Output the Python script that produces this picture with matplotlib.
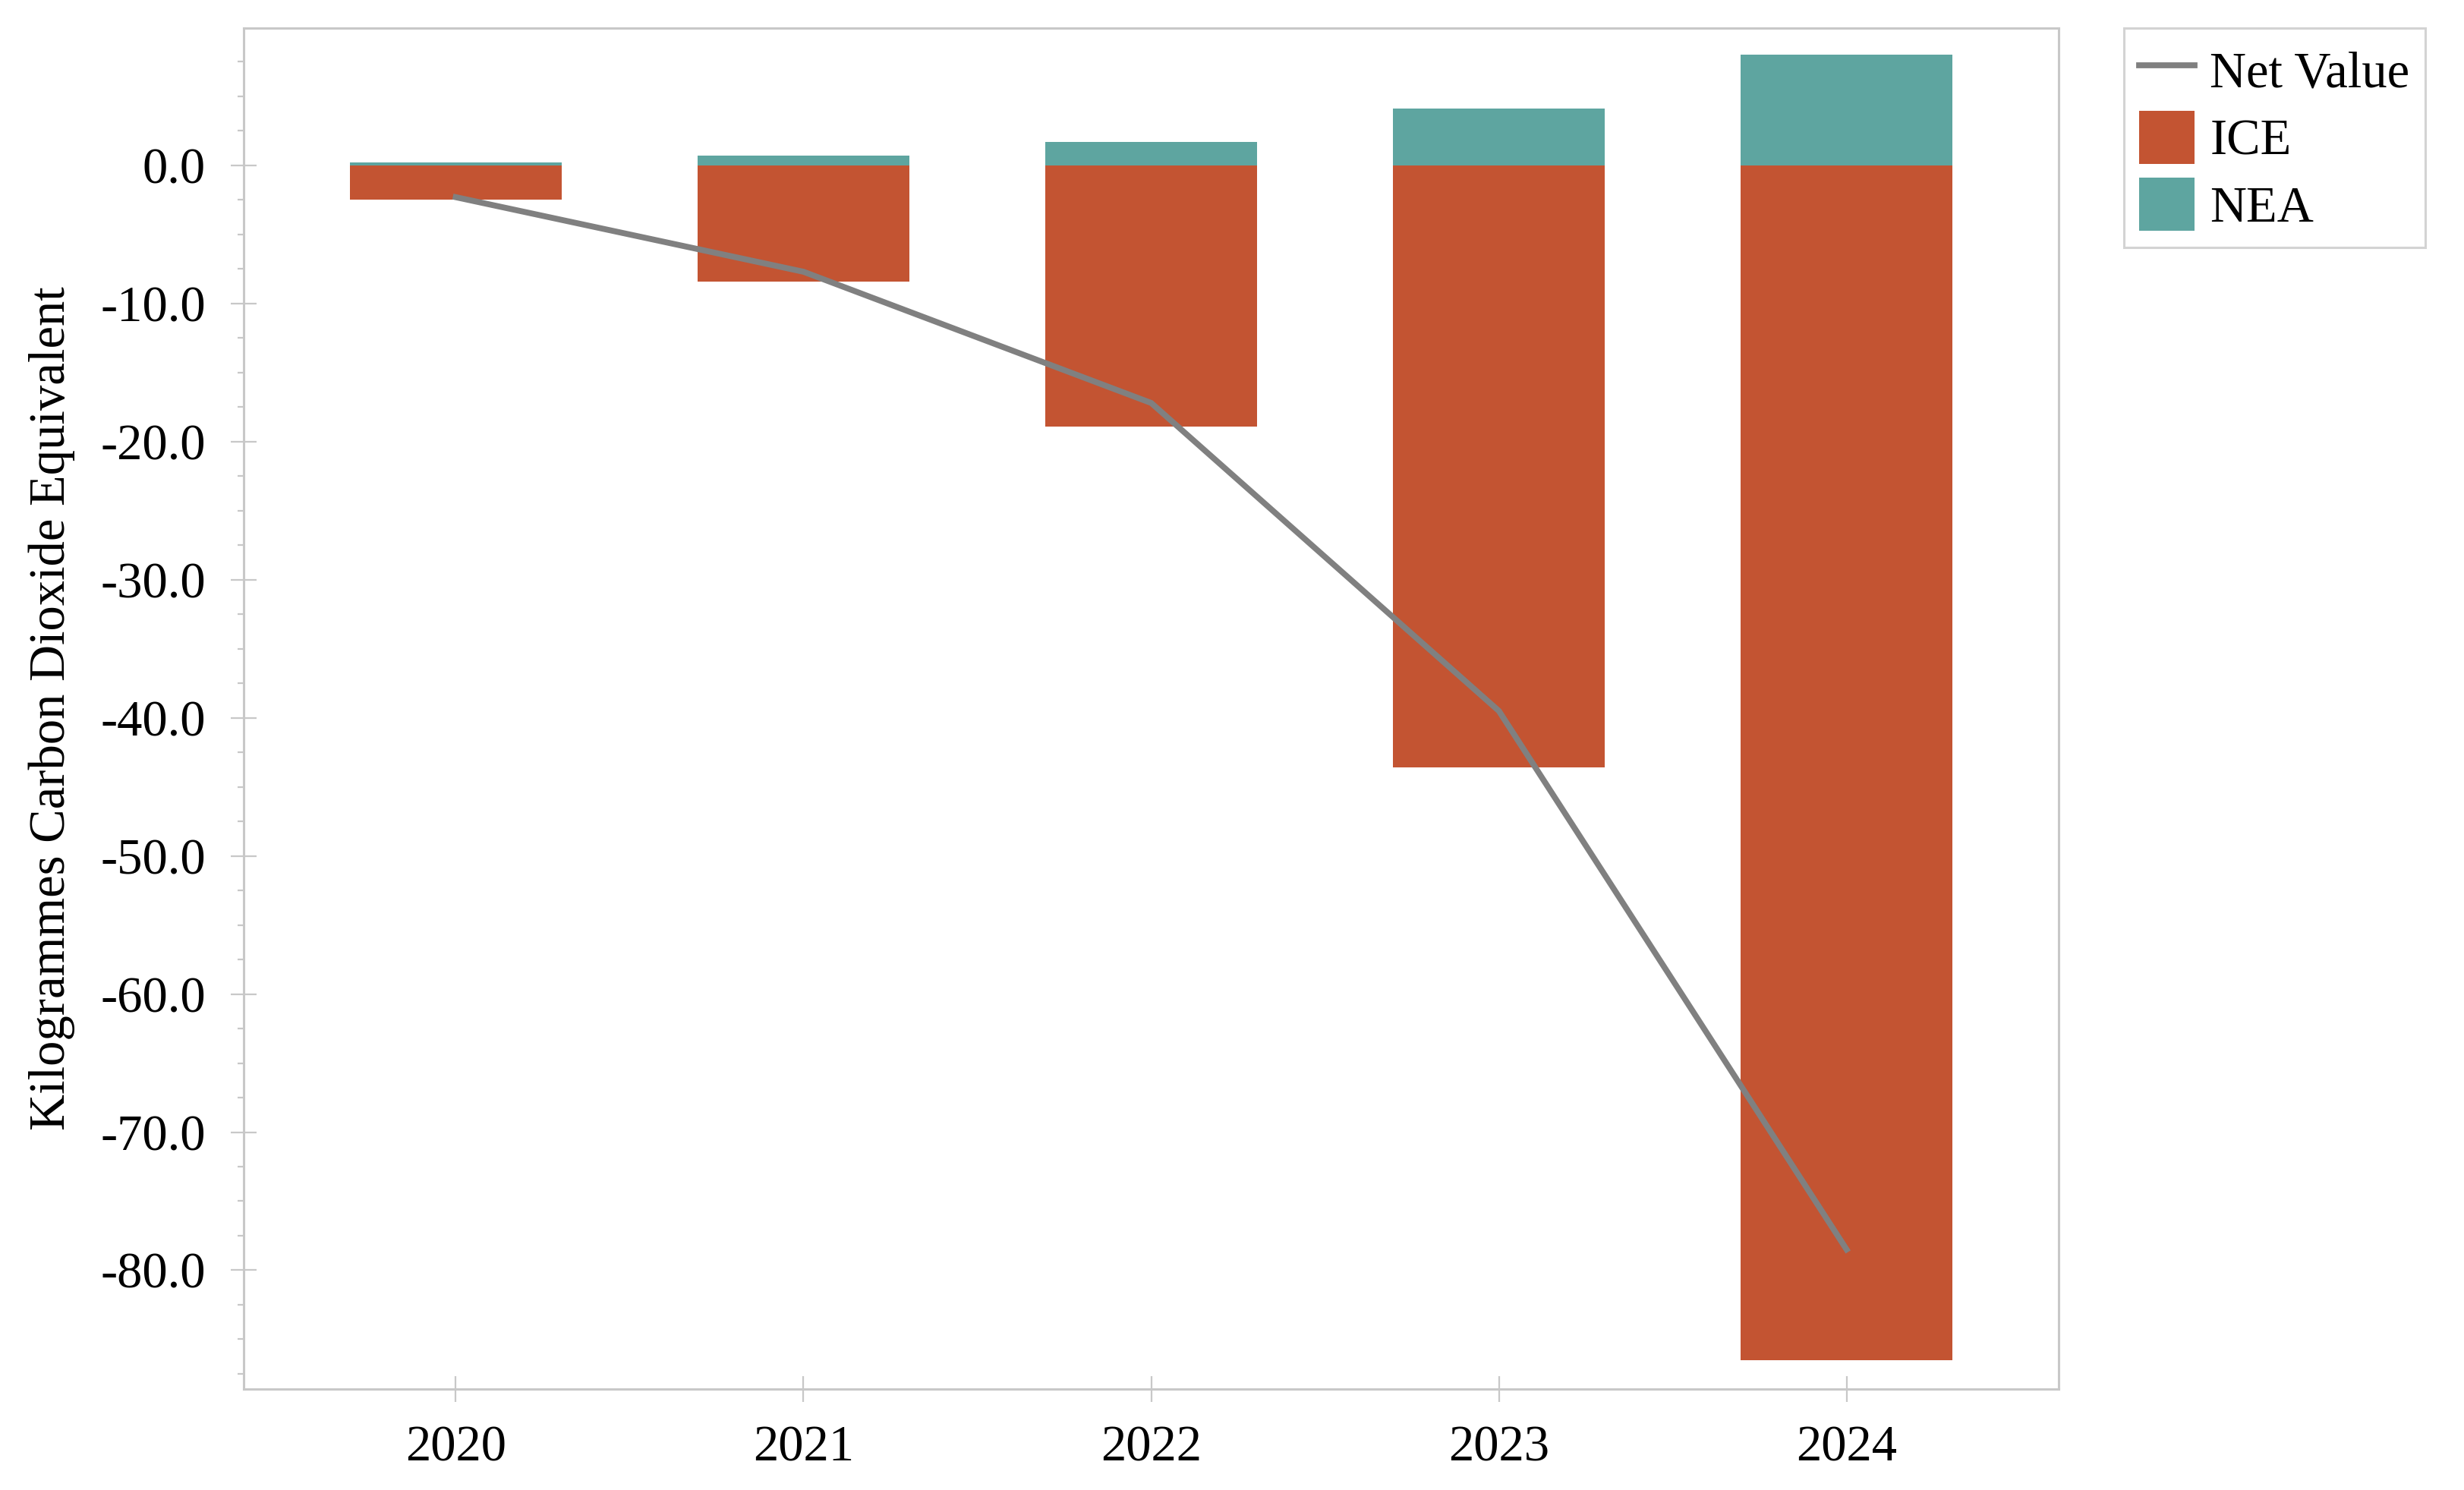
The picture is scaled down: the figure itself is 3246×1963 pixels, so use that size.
import numpy as np
import matplotlib.pyplot as plt
from matplotlib.ticker import MultipleLocator, FormatStrFormatter

# Values (kg CO2e)
years = ['2020', '2021', '2022', '2023', '2024']
ice   = [-2.5, -8.4, -18.9, -43.6, -86.5]
nea   = [0.2, 0.7, 1.7, 4.1, 8.0]
net   = [-2.3, -7.7, -17.2, -39.5, -78.5]

ice_color = '#C35432'
nea_color = '#5EA5A0'
line_color = '#808080'
grey = '#C8C8C8'

plt.rcParams['font.family'] = ['Liberation Serif', 'DejaVu Serif']

fig = plt.figure(figsize=(16.23, 9.815), dpi=200)
ax = fig.add_axes([0.0989, 0.0678, 0.7366, 0.9134])

x = np.arange(len(years))
ax.bar(x, ice, width=0.61, color=ice_color, label='ICE', zorder=2)
ax.bar(x, nea, width=0.61, color=nea_color, label='NEA', zorder=2)
ax.plot(x, net, color=line_color, linewidth=2.8, label='Net Value', zorder=3)

ax.set_xlim(-0.61, 4.61)
ax.set_ylim(-88.6, 9.95)
ax.set_xticks(x)
ax.set_xticklabels(years)
ax.yaxis.set_major_locator(MultipleLocator(10))
ax.yaxis.set_minor_locator(MultipleLocator(2.5))
ax.yaxis.set_major_formatter(FormatStrFormatter('%.1f'))

for s in ax.spines.values():
    s.set_color(grey)
    s.set_linewidth(1.1)

ax.tick_params(axis='both', which='major', direction='inout', length=12,
               width=0.8, color=grey, labelsize=24)
ax.tick_params(axis='y', which='major', pad=12)
ax.tick_params(axis='y', which='minor', direction='out', length=3,
               width=0.8, color=grey)
ax.tick_params(axis='x', which='major', pad=11)

ax.set_ylabel('Kilogrammes Carbon Dioxide Equivalent', fontsize=24, labelpad=12)

handles, labels = ax.get_legend_handles_labels()
order = [labels.index('Net Value'), labels.index('ICE'), labels.index('NEA')]
leg = fig.legend([handles[i] for i in order], [labels[i] for i in order],
                 loc='upper left', bbox_to_anchor=(0.862, 0.981),
                 fontsize=24, frameon=True, fancybox=False,
                 handlelength=1.1, handleheight=1.25, handletextpad=0.3,
                 borderpad=0.3, labelspacing=0.25, borderaxespad=0)
leg.get_frame().set_edgecolor(grey)
leg.get_frame().set_linewidth(1.1)

fig.savefig('out.png', dpi=200)
